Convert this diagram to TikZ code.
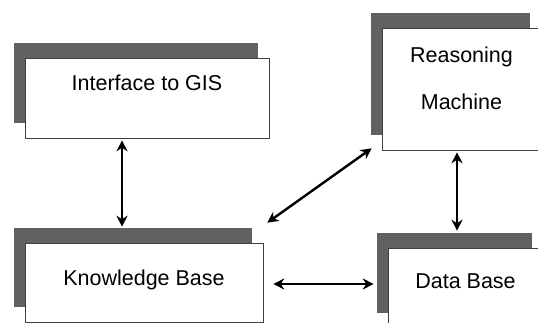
\documentclass[tikz,border=0pt]{standalone}
\usepackage{fontspec}
\setmainfont{Liberation Sans}
\usetikzlibrary{arrows.meta,shadows}
\tikzset{
  module/.style={draw=black!75, line width=0.6pt, fill=white, inner sep=0pt,
    general shadow={fill=black!62, shadow xshift=-11pt, shadow yshift=15pt}},
  caption/.style={anchor=base, font=\fontsize{21.5}{25}\selectfont},
  link/.style={{Stealth[length=11pt,width=11pt]}-{Stealth[length=11pt,width=11pt]}, line width=2.4pt},
}
\begin{document}
\begin{tikzpicture}[x=1pt,y=-1pt]
\clip (0,0) rectangle (538,323);
% the four modules, each with its shadow up and to the left
\node[module, minimum width=244pt, minimum height=80pt] (gis) at (147,98) {};
\node[module, minimum width=159pt, minimum height=122pt] (rm) at (461.5,89) {};
\node[module, minimum width=238pt, minimum height=79pt] (kb) at (144,282.5) {};
\node[module, minimum width=155pt, minimum height=80pt] (db) at (465.5,288) {};
\node[caption] (gistext) at ([yshift=-33pt]gis.north) {Interface to GIS};
\node[caption] (rmtext1) at ([yshift=-35pt]rm.north) {Reasoning};
\node[caption] (rmtext2) at ([yshift=-82pt]rm.north) {Machine};
\node[caption] (kbtext) at ([yshift=-43pt]kb.north) {Knowledge Base};
\node[caption] (dbtext) at ([yshift=-41pt]db.north) {Data Base};
% two-way links
\draw[link] ([xshift=-25pt,yshift=-2pt]gis.south) -- ([xshift=-22pt,yshift=16pt]kb.north);
\draw[link] ([xshift=-4.5pt,yshift=-2pt]rm.south) -- ([xshift=-8.5pt,yshift=17pt]db.north);
\draw[link] ([xshift=4pt,yshift=20pt]kb.north east) -- ([xshift=-10pt,yshift=2pt]rm.south west);
\draw[link] ([xshift=10pt,yshift=-1.5pt]kb.east) -- ([xshift=-14pt,yshift=4pt]db.west);
\end{tikzpicture}
\end{document}
